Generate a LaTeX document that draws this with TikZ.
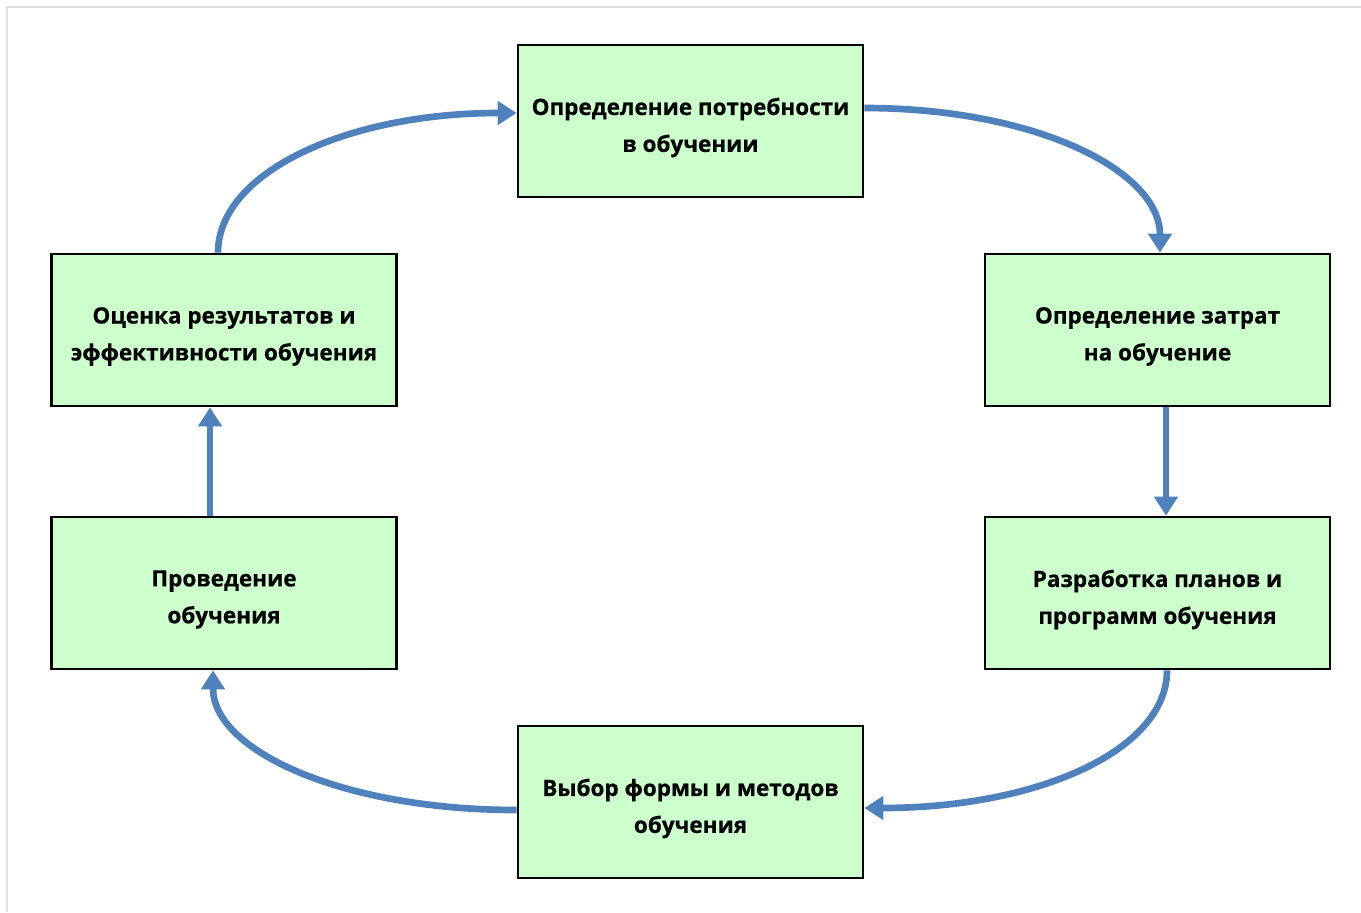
\documentclass[tikz,border=0pt]{standalone}
\usepackage{fontspec}
\setmainfont{Open Sans}[BoldFeatures={FakeBold=0.5}]
\usetikzlibrary{arrows.meta}
\definecolor{stepfill}{RGB}{204,255,204}
\definecolor{flowblue}{RGB}{79,129,189}
\definecolor{framegray}{RGB}{222,222,222}
\begin{document}
\begin{tikzpicture}[
    stage/.style={draw=black,line width=1.5pt,fill=stepfill,minimum width=6.9cm,minimum height=3.04cm},
    stagelabel/.style={yshift=-0.13cm,align=center,font=\bfseries\fontsize{12.8}{21}\selectfont},
    flow/.style={draw=flowblue,line width=3.8pt,-{Triangle[width=0.46cm,length=0.38cm]}}
]
        \useasboundingbox (0,0) rectangle (27.22,-18.24);
        % --- Frame ---
        \draw[framegray,line width=1pt] (0.14,-18.24) -- (0.14,-0.14) -- (27.22,-0.14);
        % ---

        % --- Stages ---
        \node[stage,label={[stagelabel]center:Определение потребности\\в обучении}] (need) at (13.81,-2.42) {};
        \node[stage,label={[stagelabel]center:Определение затрат\\на обучение}] (cost) at (23.15,-6.60) {};
        \node[stage,label={[stagelabel]center:Разработка планов и\\программ обучения}] (plan) at (23.15,-11.86) {};
        \node[stage,label={[stagelabel]center:Выбор формы и методов\\обучения}] (choice) at (13.81,-16.04) {};
        \node[stage,label={[stagelabel]center:Проведение\\обучения}] (conduct) at (4.48,-11.86) {};
        \node[stage,label={[stagelabel]center:Оценка результатов и\\эффективности обучения}] (eval) at (4.48,-6.60) {};
        % ---

        % --- Cycle arrows ---
        \draw[flow] ([yshift=0.26cm]need.east) to[out=0,in=90,out looseness=1.32,in looseness=0.64] ([xshift=0.05cm]cost.north);
        \draw[flow] ([xshift=0.17cm]cost.south) -- ([xshift=0.17cm]plan.north);
        \draw[flow] ([xshift=0.19cm]plan.south) to[out=-90,in=0,out looseness=0.62,in looseness=1.32] ([yshift=-0.12cm]choice.east);
        \draw[flow] ([yshift=-0.16cm]choice.west) to[out=180,in=-90,out looseness=1.32,in looseness=0.62] ([xshift=-0.22cm]conduct.south);
        \draw[flow] ([xshift=-0.28cm]conduct.north) -- ([xshift=-0.28cm]eval.south);
        \draw[flow] ([xshift=-0.12cm]eval.north) to[out=90,in=180,out looseness=0.62,in looseness=1.32] ([yshift=0.16cm]need.west);
        % ---
\end{tikzpicture}
\end{document}
